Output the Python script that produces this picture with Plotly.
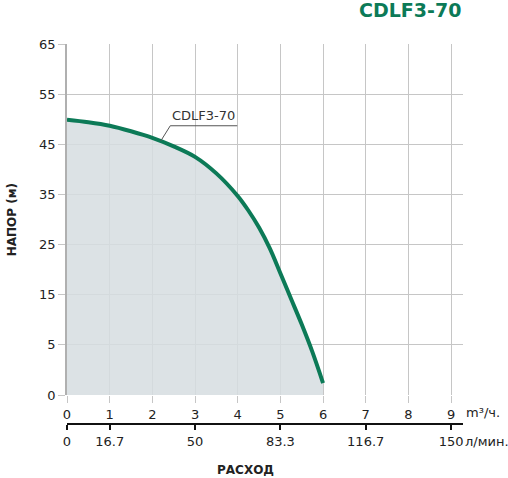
import plotly.graph_objects as go

# flow in m3/h and head in m
flow = [0, 0.5, 1, 1.5, 2, 2.5, 3, 3.5, 4, 4.25, 4.5, 4.75, 5, 5.25, 5.5, 5.75, 6]
head = [49.9, 49.4, 48.7, 47.6, 46.3, 44.6, 42.5, 39.2, 34.7, 31.8, 28.4, 24.3,
        19.3, 14.2, 9.1, 3.6, -2.6]

flow_ticks = [0, 1, 2, 3, 4, 5, 6, 7, 8, 9]
lmin_ticks = [0, 1, 3, 5, 7, 9]
lmin_labels = ["0", "16.7", "50", "83.3", "116.7", "150"]
head_ticks = [-5, 5, 15, 25, 35, 45, 55, 65]
head_labels = ["0", "5", "15", "25", "35", "45", "55", "65"]

Y_BOTTOM = -5
GREEN = "#0c7a57"
GRID = "#c6c6c6"
FONT = "DejaVu Sans"

fig = go.Figure()

# baseline for the shaded area
fig.add_trace(go.Scatter(
    x=flow, y=[Y_BOTTOM] * len(flow),
    mode="lines", line=dict(width=0), hoverinfo="skip", showlegend=False
))
fig.add_trace(go.Scatter(
    x=flow, y=head,
    mode="lines", line=dict(color=GREEN, width=4, shape="spline"),
    fill="tonexty", fillcolor="rgba(214,221,224,0.85)",
    showlegend=False
))
# nothing visible, just so the l/min axis gets drawn
fig.add_trace(go.Scatter(
    x=flow, y=head, xaxis="x2", mode="none",
    hoverinfo="skip", showlegend=False
))

fig.update_layout(
    width=508, height=478,
    margin=dict(l=67, r=45, t=44, b=40),
    plot_bgcolor="white", paper_bgcolor="white",
    font=dict(family=FONT, size=13, color="#222"),
    xaxis=dict(
        range=[0, 9.28], tickvals=flow_ticks,
        showgrid=True, gridcolor=GRID, gridwidth=1,
        ticks="outside", ticklen=7, tickcolor=GRID,
        zeroline=False, showline=False,
        tickfont=dict(size=13),
    ),
    xaxis2=dict(
        overlaying="x", anchor="free", position=0.035, side="bottom",
        range=[0, 9.28], tickvals=lmin_ticks, ticktext=lmin_labels,
        showgrid=False, zeroline=False,
        showline=True, linecolor="#111", linewidth=1.5,
        ticks="outside", ticklen=5, tickcolor="#111", tickwidth=1.5,
        tickfont=dict(size=13),
    ),
    yaxis=dict(
        domain=[0.109, 1], range=[Y_BOTTOM, 65],
        tickvals=head_ticks, ticktext=head_labels,
        showgrid=True, gridcolor=GRID, gridwidth=1,
        ticks="outside", ticklen=7, tickcolor=GRID,
        zeroline=False, showline=True, linecolor="#b0b0b0", linewidth=1.5,
        tickfont=dict(size=13),
    ),
)

# curve label with leader line
fig.add_shape(type="path", xref="x", yref="y",
              path="M 2.2 45.7 L 2.42 48.7 L 3.99 48.7",
              line=dict(color="#555", width=1))
fig.add_annotation(x=3.2, y=48.8, xref="x", yref="y", text="CDLF3-70",
                   showarrow=False, yanchor="bottom",
                   font=dict(size=13, color="#333"))

fig.add_annotation(x=1, y=1.086, xref="paper", yref="paper", text="<b>CDLF3-70</b>",
                   showarrow=False, xanchor="right", yanchor="middle",
                   font=dict(size=19, color=GREEN))
fig.add_annotation(x=1.003, y=0.0635, xref="paper", yref="paper", text="m³/ч.",
                   showarrow=False, xanchor="left", yanchor="middle",
                   font=dict(size=13))
fig.add_annotation(x=1.0, y=-0.008, xref="paper", yref="paper", text="л/мин.",
                   showarrow=False, xanchor="left", yanchor="middle",
                   font=dict(size=13))
fig.add_annotation(x=-0.139, y=0.555, xref="paper", yref="paper", text="<b>НАПОР (м)</b>",
                   showarrow=False, textangle=-90, xanchor="center", yanchor="middle",
                   font=dict(size=12))
fig.add_annotation(x=0.452, y=-0.081, xref="paper", yref="paper", text="<b>РАСХОД</b>",
                   showarrow=False, xanchor="center", yanchor="middle",
                   font=dict(size=12))

# the page's default 8px body margin would push the figure off the window
fig.write_html("out.html", config={"displayModeBar": False},
               post_script="document.body.style.margin = '0';")
